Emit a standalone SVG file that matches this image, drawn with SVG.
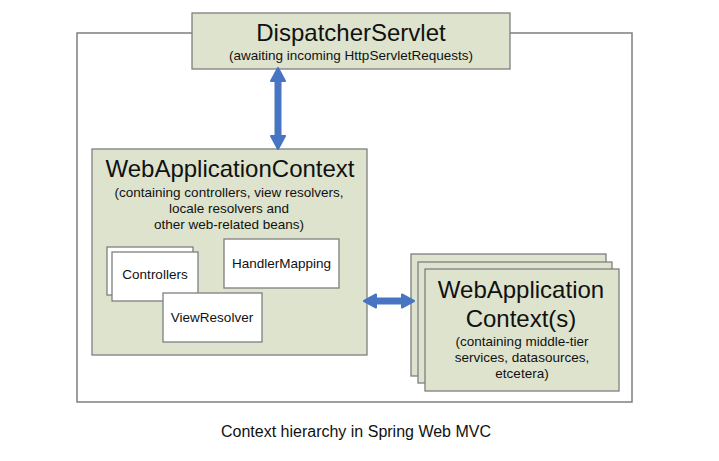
<svg xmlns="http://www.w3.org/2000/svg" width="719" height="461" viewBox="0 0 719 461">
<style>
text{font-family:"Liberation Sans",Arial,sans-serif;fill:#111;text-anchor:middle}
.box{fill:#dee3cd;stroke:#7f7f7f;stroke-width:1.3}
.wbox{fill:#fff;stroke:#7f7f7f;stroke-width:1.3}
.t24{font-size:24px}
.t13{font-size:13.5px}
.arr{fill:#4775c4;stroke:#4775c4;stroke-width:2;stroke-linejoin:round}
</style>
<rect width="719" height="461" fill="#fff"/>
<rect x="77" y="33" width="555" height="369" fill="none" stroke="#7f7f7f" stroke-width="1.5"/>
<g id="dispatcher">
<rect class="box" x="192" y="13" width="318" height="56"/>
<text class="t24" x="351" y="41">DispatcherServlet</text>
<text class="t13" x="351" y="60">(awaiting incoming HttpServletRequests)</text>
</g>
<g id="webctx">
<rect class="box" x="92" y="149" width="275" height="206"/>
<text class="t24" x="230" y="177">WebApplicationContext</text>
<text class="t13" x="229" y="197">(containing controllers, view resolvers,</text>
<text class="t13" x="229" y="213">locale resolvers and</text>
<text class="t13" x="229" y="229">other web-related beans)</text>
</g>
<g id="controllers">
<rect class="wbox" x="107" y="247" width="86" height="48"/>
<rect class="wbox" x="112" y="252" width="86" height="49"/>
<text class="t13" x="155" y="279">Controllers</text>
</g>
<g id="handlermapping">
<rect class="wbox" x="224" y="239" width="115" height="49"/>
<text class="t13" x="281.5" y="268">HandlerMapping</text>
</g>
<g id="viewresolver">
<rect class="wbox" x="163" y="293" width="99" height="49"/>
<text class="t13" x="212" y="322">ViewResolver</text>
</g>
<g id="rootctx">
<rect class="box" x="411" y="254" width="195" height="122"/>
<rect class="box" x="418" y="262" width="194" height="121"/>
<rect class="box" x="425" y="269" width="194" height="122"/>
<text class="t24" x="521" y="298">WebApplication</text>
<text class="t24" x="521" y="327">Context(s)</text>
<text class="t13" x="522" y="346">(containing middle-tier</text>
<text class="t13" x="522" y="362">services, datasources,</text>
<text class="t13" x="522" y="378">etcetera)</text>
</g>
<g id="connectors">
<line x1="278" y1="78" x2="278" y2="139" stroke="#4775c4" stroke-width="7"/>
<path class="arr" d="M278 68 L285 81 L271 81 Z"/>
<path class="arr" d="M278 149 L285 136 L271 136 Z"/>
<line x1="373" y1="301" x2="405" y2="301" stroke="#4775c4" stroke-width="7"/>
<path class="arr" d="M364 301 L376 294.5 L376 307.5 Z"/>
<path class="arr" d="M414 301 L402 294.5 L402 307.5 Z"/>
</g>
<text x="356" y="437" style="font-size:16px">Context hierarchy in Spring Web MVC</text>
</svg>
